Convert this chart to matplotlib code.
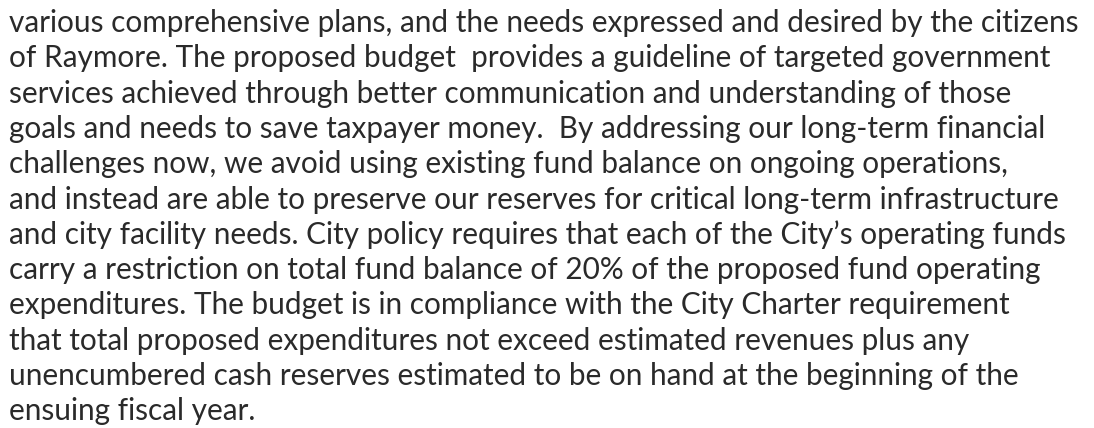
import matplotlib.pyplot as plt

lines = [
    "various comprehensive plans, and the needs expressed and desired by the citizens",
    "of Raymore. The proposed budget  provides a guideline of targeted government",
    "services achieved through better communication and understanding of those",
    "goals and needs to save taxpayer money.  By addressing our long-term financial",
    "challenges now, we avoid using existing fund balance on ongoing operations,",
    "and instead are able to preserve our reserves for critical long-term infrastructure",
    "and city facility needs. City policy requires that each of the City\u2019s operating funds",
    "carry a restriction on total fund balance of 20% of the proposed fund operating",
    "expenditures. The budget is in compliance with the City Charter requirement",
    "that total proposed expenditures not exceed estimated revenues plus any",
    "unencumbered cash reserves estimated to be on hand at the beginning of the",
    "ensuing fiscal year.",
]

fig = plt.figure(figsize=(10.94, 4.28), dpi=100)
fig.patch.set_facecolor("white")

first_baseline = 32   # px from top
spacing = 35.3        # px
for i, line in enumerate(lines):
    y = 1 - (first_baseline + i * spacing) / 428
    fig.text(9 / 1094, y, line, fontsize=21.4, family="Lato",
             color="#2a2a2a", va="baseline", ha="left")

fig.savefig("out.png", dpi=100)
